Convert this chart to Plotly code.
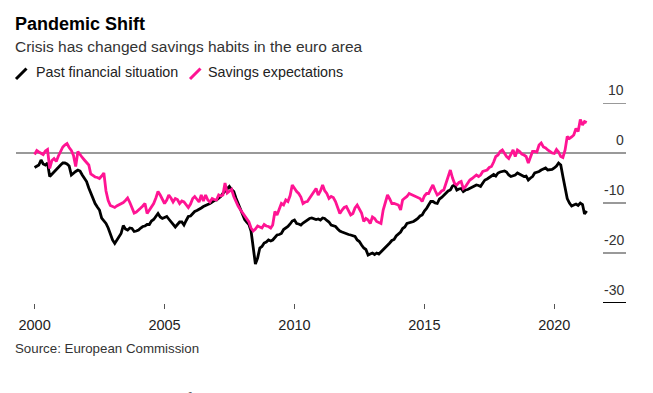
import pandas as pd
import plotly.graph_objects as go

# ---- data (monthly, Jan 2000 - Apr 2021) ----
past_financial = [
    # 2000
    -2.9, -2.6, -2.4, -1.4, -2.2, -2.4, -2.0, -4.7, -4.2, -3.7, -3.2, -2.7,
    # 2001
    -2.4, -2.0, -2.0, -2.2, -2.6, -4.4, -4.0, -3.7, -3.4, -3.6, -4.4, -5.0,
    # 2002
    -5.7, -7.0, -8.0, -9.1, -10.1, -10.8, -11.4, -13.0, -13.6, -14.1, -15.0, -16.4,
    # 2003
    -17.4, -18.1, -17.4, -16.8, -16.1, -14.5, -15.2, -15.4, -15.0, -15.1, -15.7, -15.6,
    # 2004
    -15.4, -15.0, -14.7, -14.6, -14.3, -14.3, -13.6, -13.3, -12.6, -12.1, -12.8, -13.1,
    # 2005
    -12.9, -12.7, -13.2, -13.8, -14.2, -14.8, -14.3, -13.8, -13.8, -14.4, -13.5, -12.7,
    # 2006
    -12.6, -12.0, -11.7, -11.5, -11.3, -11.0, -10.7, -10.5, -10.4, -10.1, -9.8, -9.5,
    # 2007
    -9.4, -9.1, -8.7, -8.1, -7.6, -7.1, -6.7, -7.3, -7.7, -9.0, -10.1, -11.3,
    # 2008
    -12.1, -13.3, -13.8, -14.3, -15.6, -18.7, -22.2, -21.0, -19.0, -18.7, -18.0, -17.8,
    # 2009
    -17.4, -17.6, -17.4, -16.9, -16.4, -16.3, -16.1, -15.3, -15.0, -14.7, -14.2, -13.6,
    # 2010
    -13.4, -14.1, -14.2, -14.4, -14.0, -13.7, -13.5, -13.1, -13.0, -13.2, -13.3, -13.2,
    # 2011
    -13.4, -13.0, -13.1, -13.5, -13.8, -14.4, -14.5, -14.7, -15.2, -15.6, -15.8, -16.0,
    # 2012
    -16.1, -16.3, -16.4, -16.6, -16.7, -17.4, -17.7, -18.4, -19.0, -19.3, -20.4, -20.2,
    # 2013
    -20.0, -20.3, -20.0, -20.2, -19.8, -19.3, -18.9, -18.6, -18.0, -17.5, -17.3, -16.6,
    # 2014
    -16.2, -15.8, -15.1, -14.8, -14.1, -14.0, -13.9, -13.7, -13.4, -13.1, -12.6, -12.4,
    # 2015
    -11.6, -11.1, -10.4, -9.7, -9.7, -10.0, -10.1, -9.2, -8.9, -8.4, -8.1, -7.6,
    # 2016
    -7.4, -6.6, -6.4, -7.4, -7.2, -7.1, -7.7, -7.4, -7.3, -7.1, -6.9, -6.7,
    # 2017
    -6.4, -6.5, -6.7, -6.0, -5.4, -5.2, -4.9, -4.6, -4.3, -4.6, -4.0, -3.8,
    # 2018
    -3.7, -3.6, -3.8, -4.4, -4.7, -4.5, -4.4, -4.0, -4.2, -4.4, -4.7, -4.6,
    # 2019
    -5.4, -5.0, -4.7, -4.0, -3.9, -3.7, -3.4, -3.2, -3.0, -3.4, -3.4, -3.3,
    # 2020
    -3.0, -2.6, -2.0, -2.4, -4.7, -7.4, -9.1, -10.0, -10.6, -10.4, -10.2, -10.5,
    # 2021
    -10.0, -10.3, -12.2, -11.6,
]

savings_expectations = [
    # 2000
    -0.3, 0.5, 0.2, 0.0, -0.3, 0.4, 0.7, -3.1, -1.5, -1.1, -1.7, -0.6,
    # 2001
    0.5, 1.2, 1.6, 1.9, 1.1, 0.5, -0.5, -2.7, 0.3, -0.4, -0.9, -1.4,
    # 2002
    -1.8, -2.4, -4.2, -4.5, -4.8, -4.9, -5.1, -4.6, -4.0, -7.6, -9.5, -10.5,
    # 2003
    -10.7, -10.9, -10.6, -10.4, -10.1, -9.9, -9.5, -9.0, -9.9, -10.8, -12.0, -11.8,
    # 2004
    -11.3, -11.0, -10.6, -10.1, -12.1, -11.4, -10.9, -10.1, -9.0, -7.7, -8.4, -9.2,
    # 2005
    -10.1, -9.4, -8.4, -9.0, -9.8, -9.1, -9.3, -10.1, -9.6, -9.8, -10.4, -10.9,
    # 2006
    -10.2, -9.1, -8.7, -9.4, -9.8, -8.4, -9.6, -8.4, -9.4, -9.8, -9.1, -9.3,
    # 2007
    -9.4, -8.4, -8.6, -8.4, -6.0, -8.0, -7.6, -7.3, -8.7, -9.8, -10.6, -11.3,
    # 2008
    -12.0, -12.7, -13.3, -13.8, -15.0, -15.6, -15.2, -14.6, -14.8, -15.0, -14.3, -14.6,
    # 2009
    -14.7, -15.0, -14.4, -11.7, -12.4, -11.0, -10.1, -10.4, -9.4, -9.7, -8.5, -6.4,
    # 2010
    -7.1, -7.7, -8.1, -8.8, -10.1, -9.8, -9.7, -9.0, -8.4, -7.6, -7.1, -8.4,
    # 2011
    -7.6, -6.4, -7.5, -8.1, -9.1, -8.7, -8.9, -9.7, -11.0, -12.1, -11.4, -10.9,
    # 2012
    -10.7, -11.5, -12.4, -12.1, -11.0, -10.4, -11.1, -12.0, -13.7, -13.1, -13.4, -14.1,
    # 2013
    -12.8, -13.1, -13.7, -13.9, -14.1, -11.4, -10.0, -8.4, -9.2, -10.1, -10.1, -10.3,
    # 2014
    -10.4, -11.4, -9.4, -9.0, -8.7, -8.1, -8.3, -8.4, -8.7, -8.9, -9.1, -9.7,
    # 2015
    -8.6, -8.1, -8.1, -7.2, -6.4, -7.5, -8.4, -8.1, -7.6, -7.4, -6.1, -4.5,
    # 2016
    -3.4, -5.0, -6.1, -6.4, -5.9, -5.7, -7.1, -6.7, -6.0, -5.4, -5.1, -4.8,
    # 2017
    -4.4, -4.7, -4.4, -3.7, -3.5, -3.4, -2.9, -2.7, -1.8, -0.7, -0.4, 0.3,
    # 2018
    0.6, -0.1, -0.7, -1.1, -0.1, 0.6, -0.7, 0.6, 0.3, -0.2, -0.4, -0.7,
    # 2019
    -2.0, -0.7, 0.3, 0.3, 0.2, 1.6, 2.0, 1.2, 1.0, 0.6, 0.3, 0.0,
    # 2020
    -0.1, 0.7, 0.2, -0.7, -0.9, 0.6, 3.3, 2.9, 3.2, 3.6, 4.9, 4.3,
    # 2021
    6.7, 5.6, 6.3, 6.1,
]

months = pd.date_range("2000-01-01", periods=len(past_financial), freq="MS")

x_tick_years = [2000, 2005, 2010, 2015, 2020]
y_tick_values = [10, 0, -10, -20, -30]
y_tick_labels = ["10", "0", "-10", "-20", "-30"]

series_names = ["Past financial situation", "Savings expectations"]
series_colors = ["#000000", "#FF1493"]

# ---- layout helpers: window pixel -> paper coords ----
# the page body has an 8px margin, so the figure starts at (8, 8) in the window
OFF = 8
W, H = 653 - OFF, 393 - OFF
ML, MT = 16 - OFF, 103 - OFF          # plot area left/top in figure pixels
MR, MB = W - (626 - OFF), H - (303 - OFF)
PW, PH = W - ML - MR, H - MT - MB


def px(x):
    return (x - OFF - ML) / PW


def py(y):
    return (MT + PH - (y - OFF)) / PH


FONT = "Liberation Sans, Arial, Helvetica, sans-serif"

fig = go.Figure()
for name, vals, col in zip(series_names, [past_financial, savings_expectations], series_colors):
    fig.add_trace(go.Scatter(x=months, y=vals, mode="lines", name=name,
                             line=dict(color=col, width=2.8), showlegend=False,
                             hoverinfo="skip"))

shapes = []
# zero line across the plot
shapes.append(dict(type="line", xref="paper", yref="y", x0=0, x1=1, y0=0, y1=0,
                   line=dict(color="#999999", width=2), layer="below"))
annotations = []
for v, lab in zip(y_tick_values, y_tick_labels):
    shapes.append(dict(type="line", xref="paper", yref="y", x0=px(603), x1=1, y0=v, y1=v,
                       line=dict(color="#000000" if v == -30 else "#999999", width=2),
                       layer="below"))
    annotations.append(dict(xref="paper", yref="y", x=1, y=v, yshift=13, text=lab,
                            showarrow=False, xanchor="right", yanchor="middle",
                            font=dict(family=FONT, size=14, color="#333333")))

# legend (slash icons + text)
legend_items = [(16, 35), (190, 207)]
for (ix, tx), name, col in zip(legend_items, series_names, series_colors):
    shapes.append(dict(type="line", xref="paper", yref="paper",
                       x0=px(ix), y0=py(79), x1=px(ix + 10.5), y1=py(68.5),
                       line=dict(color=col, width=3)))
    annotations.append(dict(xref="paper", yref="paper", x=px(tx - 1), y=py(72.5), text=name,
                            showarrow=False, xanchor="left", yanchor="middle",
                            font=dict(family=FONT, size=14.3, color="#222222")))

annotations.append(dict(xref="paper", yref="paper", x=px(13), y=py(24),
                        text="<b>Pandemic Shift</b>", showarrow=False,
                        xanchor="left", yanchor="middle",
                        font=dict(family=FONT, size=18, color="#000000")))
annotations.append(dict(xref="paper", yref="paper", x=px(13), y=py(47),
                        text="Crisis has changed savings habits in the euro area",
                        showarrow=False, xanchor="left", yanchor="middle",
                        font=dict(family=FONT, size=15.5, color="#333333")))
annotations.append(dict(xref="paper", yref="paper", x=px(13), y=py(348.5),
                        text="Source: European Commission", showarrow=False,
                        xanchor="left", yanchor="middle",
                        font=dict(family=FONT, size=13.3, color="#333333")))
annotations.append(dict(xref="paper", yref="paper", x=px(13), y=py(387.8), yanchor="top",
                        text="\u201cAll told, the analysis of the survey answers more or less points to the",
                        showarrow=False, xanchor="left",
                        font=dict(family="Liberation Serif, Georgia, serif", size=18,
                                  color="#222222")))

fig.update_layout(
    width=W, height=H,
    margin=dict(l=ML, r=MR, t=MT, b=MB),
    paper_bgcolor="white", plot_bgcolor="white",
    shapes=shapes, annotations=annotations,
    xaxis=dict(type="date", range=["1999-04-15", "2022-10-05"],
               tickvals=[f"{y}-01-01" for y in x_tick_years],
               ticktext=[str(y) for y in x_tick_years],
               ticks="outside", ticklen=5, tickwidth=1, tickcolor="#555555",
               showgrid=False, zeroline=False, showline=False,
               ticklabelstandoff=4,
               tickfont=dict(family=FONT, size=14.5, color="#222222")),
    yaxis=dict(range=[-30, 10], showgrid=False, zeroline=False, showline=False,
               showticklabels=False, ticks=""),
)

fig.write_html("out.html")
